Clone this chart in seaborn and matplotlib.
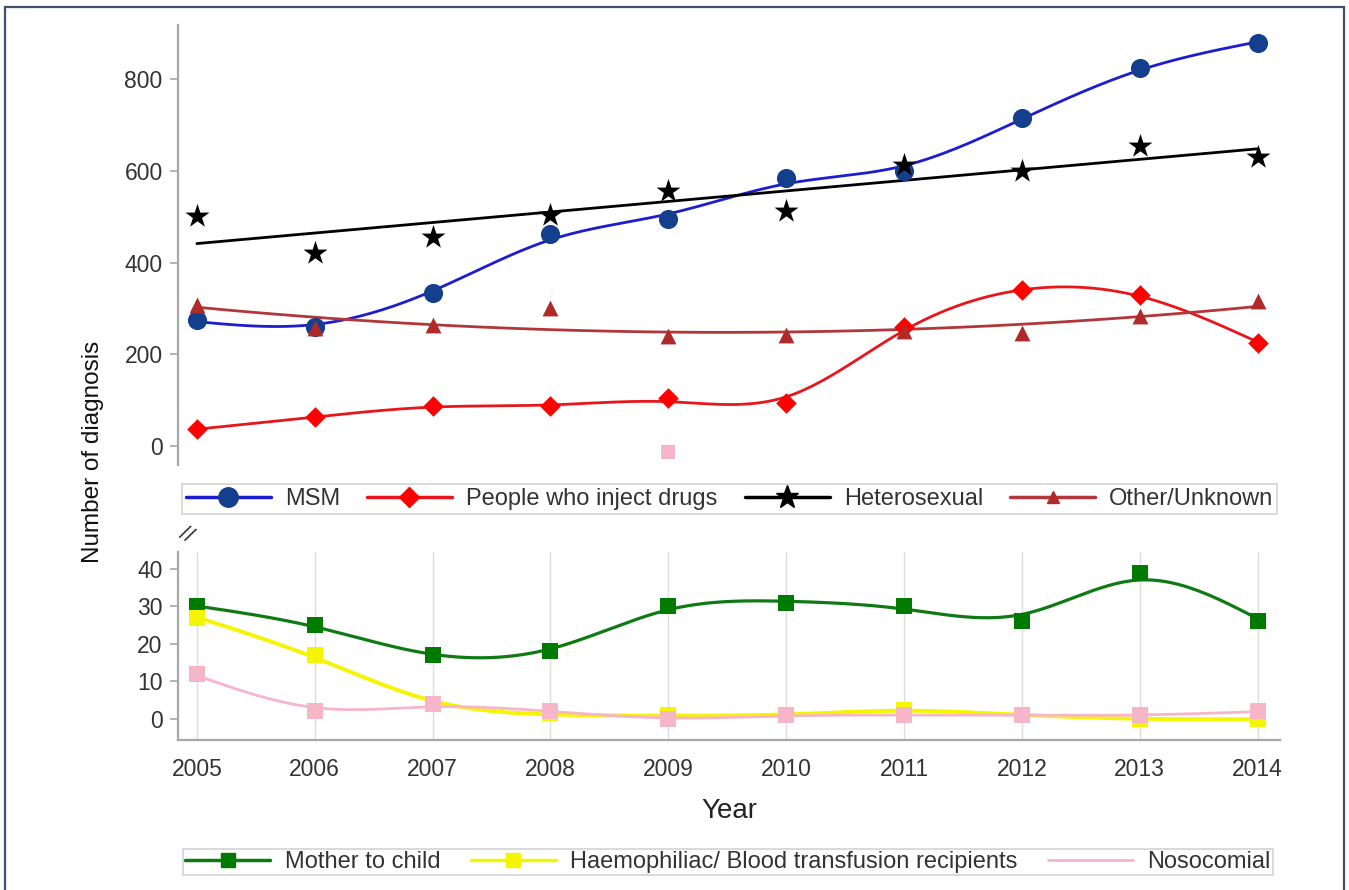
import numpy as np
import pandas as pd
import matplotlib
matplotlib.use("Agg")
import matplotlib.pyplot as plt
from matplotlib.lines import Line2D
from matplotlib.patches import Rectangle
import seaborn as sns

years = [2005, 2006, 2007, 2008, 2009, 2010, 2011, 2012, 2013, 2014]

# Upper panel: main transmission routes
msm = [275, 260, 334, 462, 495, 584, 600, 715, 824, 879]
pwid = [37, 63, 87, 87, 105, 94, 260, 340, 329, 225]
heterosexual = [502, 421, 456, 504, 556, 513, 613, 600, 654, 630]
other_unknown = [307, 257, 264, 301, 240, 242, 251, 246, 284, 316]

# Lower panel: minor transmission routes
mother_to_child = [30, 25, 17, 18, 30, 31, 30, 26, 39, 26]
haemophiliac = [27, 17, 4, 1.5, 1, 1, 2.5, 1, 0, 0]
nosocomial = [12, 2, 4, 2, 0, 1, 1, 1, 1, 2]

# stray nosocomial marker shown in the upper panel
stray_year, stray_value = 2009, -13

upper_ticks = [0, 200, 400, 600, 800]
lower_ticks = [0, 10, 20, 30, 40]


def natural_spline(x, y, xs):
    x = np.asarray(x, float)
    y = np.asarray(y, float)
    n = len(x)
    h = np.diff(x)
    A = np.zeros((n, n))
    b = np.zeros(n)
    A[0, 0] = A[-1, -1] = 1
    for i in range(1, n - 1):
        A[i, i - 1] = h[i - 1]
        A[i, i] = 2 * (h[i - 1] + h[i])
        A[i, i + 1] = h[i]
        b[i] = 6 * ((y[i + 1] - y[i]) / h[i] - (y[i] - y[i - 1]) / h[i - 1])
    M = np.linalg.solve(A, b)
    idx = np.clip(np.searchsorted(x, xs) - 1, 0, n - 2)
    x0, x1 = x[idx], x[idx + 1]
    hh = x1 - x0
    t0, t1 = x1 - xs, xs - x0
    return (M[idx] * t0 ** 3 / (6 * hh) + M[idx + 1] * t1 ** 3 / (6 * hh)
            + (y[idx] / hh - M[idx] * hh / 6) * t0
            + (y[idx + 1] / hh - M[idx + 1] * hh / 6) * t1)


def smoothing_spline(x, y, xs, lam):
    """Reinsch cubic smoothing spline evaluated on xs."""
    x = np.asarray(x, float)
    y = np.asarray(y, float)
    n = len(x)
    h = np.diff(x)
    Q = np.zeros((n, n - 2))
    R = np.zeros((n - 2, n - 2))
    for j in range(1, n - 1):
        Q[j - 1, j - 1] = 1 / h[j - 1]
        Q[j, j - 1] = -1 / h[j - 1] - 1 / h[j]
        Q[j + 1, j - 1] = 1 / h[j]
        R[j - 1, j - 1] = (h[j - 1] + h[j]) / 3
        if j < n - 2:
            R[j - 1, j] = R[j, j - 1] = h[j] / 6
    K = Q @ np.linalg.solve(R, Q.T)
    g = np.linalg.solve(np.eye(n) + lam * K, y)
    return natural_spline(x, g, xs)


sns.set_theme(style="white")
plt.rcParams["font.family"] = ["Liberation Sans", "DejaVu Sans"]

fig = plt.figure(figsize=(13.49, 8.9), dpi=100)
W, H = 1349, 890


def fx(px):
    return px / W


def fy(py):
    return 1 - py / H


ax_top = fig.add_axes([fx(178), fy(465), fx(1280 - 178), (465 - 25) / H])
ax_bot = fig.add_axes([fx(178), fy(740), fx(1280 - 178), (740 - 552) / H])

xs = np.linspace(2005, 2014, 400)

C_MSM_LINE, C_MSM_MK = "#1c1cd0", "#143f8c"
C_PWID = "#e8161c"
C_PWID_MK = "#ff0000"
C_HET = "#000000"
C_OTH_LINE, C_OTH_MK = "#b2373a", "#b02a2a"
C_MTC_LINE, C_MTC_MK = "#0f7a14", "#007a00"
C_HAE = "#f5f500"
C_NOS = "#f7b6c8"

lw = 2.0

# --- upper panel ---
sns.lineplot(x=xs, y=smoothing_spline(years, msm, xs, 0.035), ax=ax_top,
             color=C_MSM_LINE, lw=lw, estimator=None, sort=False)
sns.lineplot(x=xs, y=smoothing_spline(years, pwid, xs, 0.02), ax=ax_top,
             color=C_PWID, lw=lw, estimator=None, sort=False)
sns.regplot(x=years, y=heterosexual, ax=ax_top, ci=None, scatter=False,
            line_kws=dict(color=C_HET, lw=lw))
sns.regplot(x=years, y=other_unknown, ax=ax_top, ci=None, scatter=False,
            order=2, line_kws=dict(color=C_OTH_LINE, lw=lw))

sns.scatterplot(x=years, y=msm, ax=ax_top, marker="o", s=190,
                color=C_MSM_MK, edgecolor=C_MSM_MK, linewidth=0, zorder=5)
sns.scatterplot(x=years, y=pwid, ax=ax_top, marker="D", s=110,
                color=C_PWID_MK, edgecolor=C_PWID_MK, linewidth=0, zorder=5)
sns.scatterplot(x=years, y=heterosexual, ax=ax_top, marker="*", s=330,
                color=C_HET, edgecolor=C_HET, linewidth=0, zorder=5)
sns.scatterplot(x=years, y=other_unknown, ax=ax_top, marker="^", s=130,
                color=C_OTH_MK, edgecolor=C_OTH_MK, linewidth=0, zorder=5)
sns.scatterplot(x=[stray_year], y=[stray_value], ax=ax_top, marker="s", s=110,
                color=C_NOS, edgecolor=C_NOS, linewidth=0, zorder=5)

ax_top.set_xlim(2004.84, 2014.19)
ax_top.set_ylim(-41, 918)
ax_top.set_yticks(upper_ticks)
ax_top.set_xticks([])

# --- lower panel ---
for yr in years:
    ax_bot.axvline(yr, color="#dcdcdc", lw=1, zorder=0)

sns.lineplot(x=xs, y=smoothing_spline(years, mother_to_child, xs, 0.02),
             ax=ax_bot, color=C_MTC_LINE, lw=lw + 0.3, estimator=None,
             sort=False)
sns.lineplot(x=xs, y=smoothing_spline(years, haemophiliac, xs, 0.03),
             ax=ax_bot, color=C_HAE, lw=lw + 0.8, estimator=None, sort=False)
sns.lineplot(x=xs, y=smoothing_spline(years, nosocomial, xs, 0.03),
             ax=ax_bot, color=C_NOS, lw=lw, estimator=None, sort=False)

sns.scatterplot(x=years, y=mother_to_child, ax=ax_bot, marker="s", s=130,
                color=C_MTC_MK, edgecolor=C_MTC_MK, linewidth=0, zorder=5)
sns.scatterplot(x=years, y=haemophiliac, ax=ax_bot, marker="s", s=130,
                color=C_HAE, edgecolor=C_HAE, linewidth=0, zorder=5)
sns.scatterplot(x=years, y=nosocomial, ax=ax_bot, marker="s", s=130,
                color=C_NOS, edgecolor=C_NOS, linewidth=0, zorder=6)

ax_bot.set_xlim(2004.84, 2014.19)
ax_bot.set_ylim(-5.6, 44.5)
ax_bot.set_yticks(lower_ticks)
ax_bot.set_xticks(years)
ax_bot.set_xticklabels([str(y) for y in years])
ax_bot.set_xlabel("Year", fontsize=20, color="#222222", labelpad=12)

spine_c = "#a8a8a8"
for ax in (ax_top, ax_bot):
    ax.set_facecolor("none")
    for s in ("top", "right"):
        ax.spines[s].set_visible(False)
    ax.spines["left"].set_color(spine_c)
    ax.spines["left"].set_linewidth(1.6)
    ax.tick_params(axis="y", left=True, length=6, width=1.2, color=spine_c,
                   labelsize=16.5, labelcolor="#333333", pad=5)
    ax.set_ylabel("")
ax_top.spines["bottom"].set_visible(False)
ax_bot.spines["bottom"].set_color(spine_c)
ax_bot.spines["bottom"].set_linewidth(1.6)
ax_bot.tick_params(axis="x", bottom=False, labelsize=16.5,
                   labelcolor="#333333", pad=7)

# shared y label and axis-break mark
fig.text(fx(93), fy(452), "Number of diagnosis", rotation=90, ha="center",
         va="center", fontsize=17.5, color="#111111")
fig.text(fx(186), fy(535), "//", rotation=-30, ha="center", va="center",
         fontsize=16, color="#333333")

# legends
top_handles = [
    Line2D([], [], color=C_MSM_LINE, lw=2.5, marker="o", ms=14,
           mfc=C_MSM_MK, mec=C_MSM_MK),
    Line2D([], [], color=C_PWID, lw=2.5, marker="D", ms=10,
           mfc=C_PWID_MK, mec=C_PWID_MK),
    Line2D([], [], color=C_HET, lw=2.5, marker="*", ms=17,
           mfc=C_HET, mec=C_HET),
    Line2D([], [], color=C_OTH_LINE, lw=2.5, marker="^", ms=9,
           mfc=C_OTH_MK, mec=C_OTH_MK),
]
top_labels = ["MSM", "People who inject drugs", "Heterosexual", "Other/Unknown"]
leg1 = fig.legend(top_handles, top_labels, loc="center",
                  bbox_to_anchor=(fx(182), fy(515), fx(1277 - 182), 32 / H),
                  mode="expand", ncol=4, fontsize=17, handlelength=3.6,
                  handletextpad=0.6, borderpad=0.15, frameon=True,
                  fancybox=False, edgecolor="#d0d0d0", borderaxespad=0)
leg1.get_frame().set_linewidth(1.4)
for t in leg1.get_texts():
    t.set_color("#333333")

bot_handles = [
    Line2D([], [], color=C_MTC_LINE, lw=2.5, marker="s", ms=10,
           mfc=C_MTC_MK, mec=C_MTC_MK),
    Line2D([], [], color=C_HAE, lw=2.5, marker="s", ms=10,
           mfc=C_HAE, mec=C_HAE),
    Line2D([], [], color=C_NOS, lw=2.0),
]
bot_labels = ["Mother to child", "Haemophiliac/ Blood transfusion recipients",
              "Nosocomial"]
leg2 = fig.legend(bot_handles, bot_labels, loc="center",
                  bbox_to_anchor=(fx(183), fy(877), fx(1273 - 183), 30 / H),
                  mode="expand", ncol=3, fontsize=17, handlelength=3.6,
                  handletextpad=0.6, borderpad=0.1, frameon=True,
                  fancybox=False, edgecolor="#d0d0d0", borderaxespad=0)
leg2.get_frame().set_linewidth(1.4)
for t in leg2.get_texts():
    t.set_color("#333333")

# outer frame
fig.patches.append(Rectangle((fx(5), -0.02), fx(1344 - 5), fy(7) + 0.02,
                             transform=fig.transFigure, fill=False,
                             edgecolor="#3f5070", lw=1.6, zorder=10))

fig.savefig("out.png", dpi=100)
